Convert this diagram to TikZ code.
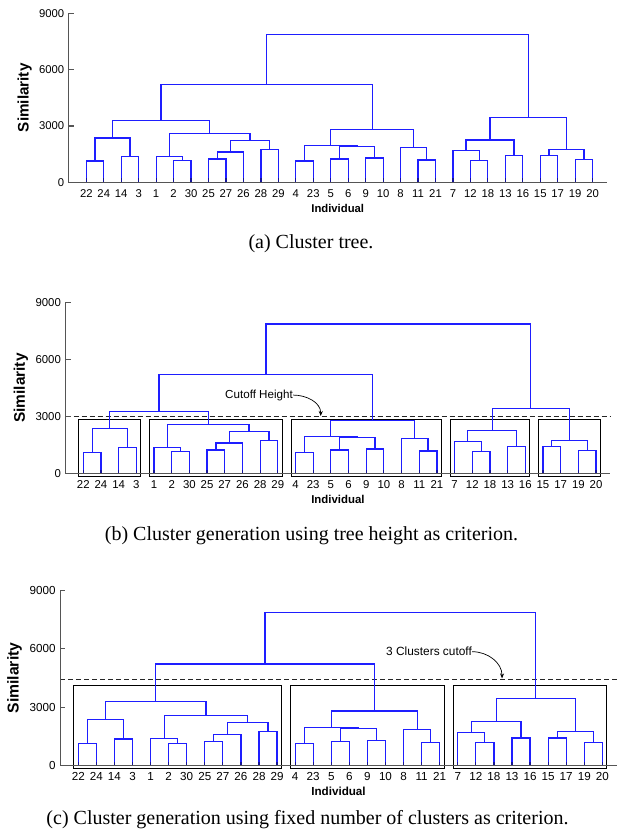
\documentclass[tikz,border=0pt]{standalone}
\usepackage{fontspec}
\setmainfont{Liberation Sans}
\newfontfamily\capfont{Liberation Serif}
\usetikzlibrary{arrows.meta}
\definecolor{treeblue}{RGB}{30,30,255}
\definecolor{tipblue}{RGB}{20,20,150}
\definecolor{axisgray}{RGB}{85,85,85}
\tikzset{
  tree/.style={draw=treeblue, line width=1.2pt},
  leaftick/.style={draw=tipblue, line width=1.2pt},
  axisline/.style={draw=axisgray, line width=1.3pt},
  clusterbox/.style={draw=black, line width=0.9pt},
  cutline/.style={draw=black!85, line width=0.9pt, dash pattern=on 5pt off 3pt},
  cutarrow/.style={draw=black, line width=0.7pt, -{Stealth[length=5pt,width=4pt]}},
  leaf/.style={inner sep=0pt, font=\fontsize{\lfs}{\lfs}\selectfont},
  ticklab/.style={inner sep=0pt, anchor=east, font=\fontsize{\lfs}{\lfs}\selectfont},
  xlab/.style={inner sep=0pt, font=\bfseries\fontsize{\lfs}{\lfs}\selectfont},
  ylab/.style={inner sep=0pt, rotate=90, font=\bfseries\fontsize{\yfs}{\yfs}\selectfont},
  note/.style={inner sep=0pt, font=\fontsize{\nfs}{\nfs}\selectfont},
  caption/.style={inner sep=0pt, font=\capfont\fontsize{20}{24}\selectfont}
}
% U-shaped link: x1, h1, x2, h2, merge height
\newcommand\ulink[5]{\draw[tree] (#1,#2) |- (#3,#5) -- (#3,#4);}
\newcommand\dendro{%
  \ulink{0}{0}{1}{0}{1.13}
  \ulink{2}{0}{3}{0}{1.37}
  \ulink{0.5}{1.13}{2.5}{1.37}{2.36}
  \ulink{5}{0}{6}{0}{1.155}
  \ulink{4}{0}{5.5}{1.155}{1.385}
  \ulink{7}{0}{8}{0}{1.24}
  \ulink{7.5}{1.24}{9}{0}{1.615}
  \ulink{10}{0}{11}{0}{1.74}
  \ulink{8.25}{1.615}{10.5}{1.74}{2.22}
  \ulink{4.75}{1.385}{9.375}{2.22}{2.59}
  \ulink{1.5}{2.36}{7.0625}{2.59}{3.285}
  \ulink{12}{0}{13}{0}{1.134}
  \ulink{14}{0}{15}{0}{1.24}
  \ulink{16}{0}{17}{0}{1.295}
  \ulink{14.5}{1.24}{16.5}{1.295}{1.90}
  \ulink{12.5}{1.134}{15.5}{1.90}{1.97}
  \ulink{19}{0}{20}{0}{1.19}
  \ulink{18}{0}{19.5}{1.19}{1.865}
  \ulink{14}{1.97}{18.75}{1.865}{2.805}
  \ulink{4.28125}{3.285}{16.375}{2.805}{5.22}
  \ulink{22}{0}{23}{0}{1.17}
  \ulink{21}{0}{22.5}{1.17}{1.685}
  \ulink{24}{0}{25}{0}{1.42}
  \ulink{21.75}{1.685}{24.5}{1.42}{2.255}
  \ulink{26}{0}{27}{0}{1.42}
  \ulink{28}{0}{29}{0}{1.205}
  \ulink{26.5}{1.42}{28.5}{1.205}{1.74}
  \ulink{23.125}{2.255}{27.5}{1.74}{3.445}
  \ulink{10.328}{5.22}{25.3125}{3.445}{7.865}
}
% #1 tag, #2 x0, #3 y0, #4 sx, #5 sy, #6 font size, #7 extras (drawn before the tree)
\newcommand\panel[7]{%
  \begin{scope}[shift={(#2pt,#3pt)}, x=#4pt, y=#5pt]
    \def\lfs{#6}%
    \pgfmathsetmacro\yfs{1.35*#6}%
    \pgfmathsetmacro\nfs{1.02*#6}%
    #7
    \dendro
    \foreach \i in {0,...,29} \draw[leaftick] (\i,0) -- ++(0,4pt);
    \draw[axisline] (-1,9) -- (-1,0) -- (29.8,0);
    \foreach \v/\t in {0/0,3/3000,6/6000,9/9000}{
      \draw[axisline] (-1,\v) -- ++(5pt,0);
      \node[ticklab, xshift=-4.5pt] (#1-tick\v) at (-1,\v) {\t};
    }
    \foreach \n [count=\i from 0] in {22,24,14,3,1,2,30,25,27,26,28,29,4,23,5,6,9,10,8,11,21,7,12,18,13,16,15,17,19,20}
      \node[leaf, yshift=-11pt] (#1-leaf\i) at (\i,0) {\n};
    \node[xlab, yshift=-25.7pt] (#1-xlab) at (14.4,0) {Individual};
    \node[ylab] (#1-ylab) at (-3.53,4.5) {Similarity};
  \end{scope}%
}
\begin{document}
\begin{tikzpicture}[x=1pt,y=1pt]
  \useasboundingbox[fill=white] (0,0) rectangle (621,838);
  % (a)
  \panel{a}{86.3}{655.7}{17.46}{18.78}{11.3}{}
  \node[caption] (capa) at (311,594) {(a) Cluster tree.};
  % (b)
  \panel{b}{83.3}{364.3}{17.68}{19.04}{11.4}{%
    \draw[clusterbox] (-0.25,-0.12) rectangle (3.25,2.85);
    \draw[clusterbox] (3.75,-0.12) rectangle (11.25,2.85);
    \draw[clusterbox] (11.75,-0.12) rectangle (20.25,2.85);
    \draw[clusterbox] (20.75,-0.12) rectangle (25.25,2.85);
    \draw[clusterbox] (25.75,-0.12) rectangle (29.25,2.85);
    \coordinate (b-cutL) at (-1,3);
    \coordinate (b-cutR) at (29.8,3);
    \draw[cutline] (b-cutL) -- (b-cutR);
    \node[note] (b-note) at (9.94,4.13) {Cutoff Height};
    \coordinate (b-tip) at (13.43,3.03);
    \draw[cutarrow] (b-note.east) to[out=0,in=90] (b-tip);
  }
  \node[caption] (capb) at (311.5,302.3) {(b) Cluster generation using tree height as criterion.};
  % (c)
  \panel{c}{78.3}{72.3}{18.07}{19.49}{11.65}{%
    \draw[clusterbox] (-0.25,-0.13) rectangle (11.25,4.10);
    \draw[clusterbox] (11.75,-0.13) rectangle (20.25,4.10);
    \draw[clusterbox] (20.75,-0.13) rectangle (29.25,4.10);
    \coordinate (c-cutL) at (-1,4.45);
    \coordinate (c-cutR) at (29.8,4.45);
    \draw[cutline] (c-cutL) -- (c-cutR);
    \node[note] (c-note) at (19.41,5.85) {3 Clusters cutoff};
    \coordinate (c-tip) at (23.45,4.48);
    \draw[cutarrow] (c-note.east) to[out=0,in=90] (c-tip);
  }
  \node[caption] (capc) at (307.5,18) {(c) Cluster generation using fixed number of clusters as criterion.};
\end{tikzpicture}
\end{document}
